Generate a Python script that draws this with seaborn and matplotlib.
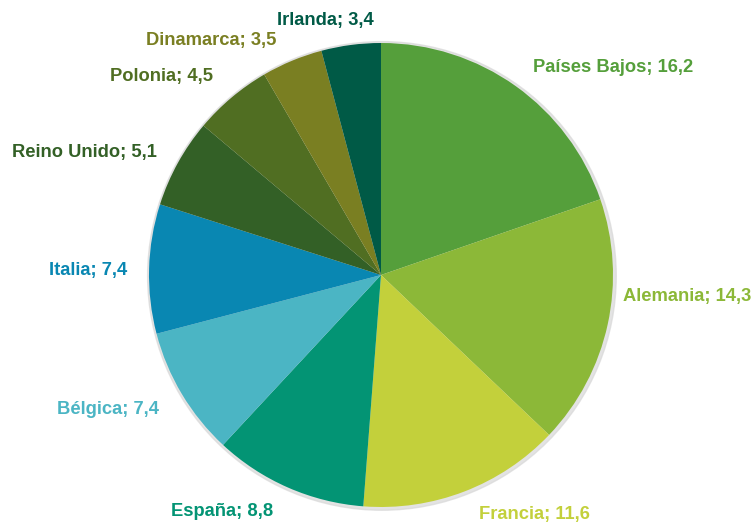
import matplotlib.pyplot as plt
import seaborn as sns
from matplotlib.patches import Circle

# data
paises = ["Países Bajos", "Alemania", "Francia", "España", "Bélgica",
          "Italia", "Reino Unido", "Polonia", "Dinamarca", "Irlanda"]
valores = [16.2, 14.3, 11.6, 8.8, 7.4, 7.4, 5.1, 4.5, 3.5, 3.4]
colores = ["#559F3B", "#8CB838", "#C3D03B", "#039474", "#4BB5C4",
           "#0987B2", "#336026", "#506E22", "#7A7F22", "#005A46"]

# label centres in pixels (layout only)
label_px = [(613, 67), (623, 296), (534, 515), (222, 511), (108, 409),
            (88, 270), (84, 152), (162, 76), (211, 40), (325, 21)]
label_ha = ["center", "left", "center", "center", "center",
            "center", "center", "center", "center", "center"]

sns.set_theme(style="white")
plt.rcParams['font.family'] = ['Liberation Sans', 'DejaVu Sans']

W, H = 755, 525
cx, cy, r = 381, 275, 232
fig = plt.figure(figsize=(W / 100, H / 100), dpi=100)
ax = fig.add_axes([(cx - r) / W, (H - cy - r) / H, 2 * r / W, 2 * r / H])

# faint shadow behind the pie
ax.add_patch(Circle((0.004, -0.004), 1.01, color="#d8d8d8", alpha=0.7,
                    zorder=0, clip_on=False))

pal = sns.color_palette(colores)
wedges, _ = ax.pie(valores, colors=pal, startangle=90, counterclock=False,
                   radius=1, wedgeprops=dict(linewidth=0))
for w in wedges:
    w.set_zorder(1)
    w.set_clip_on(False)

for name, v, col, (px, py), ha in zip(paises, valores, colores, label_px, label_ha):
    txt = f"{name}; {str(v).replace('.', ',')}"
    ax.text((px - cx) / r, (cy - py) / r, txt, color=col, fontsize=13.2,
            fontweight="bold", ha=ha, va="center", clip_on=False)

ax.set_xlim(-1, 1)
ax.set_ylim(-1, 1)
ax.set_aspect("equal")
ax.axis("off")

fig.savefig("out.png", dpi=100)
